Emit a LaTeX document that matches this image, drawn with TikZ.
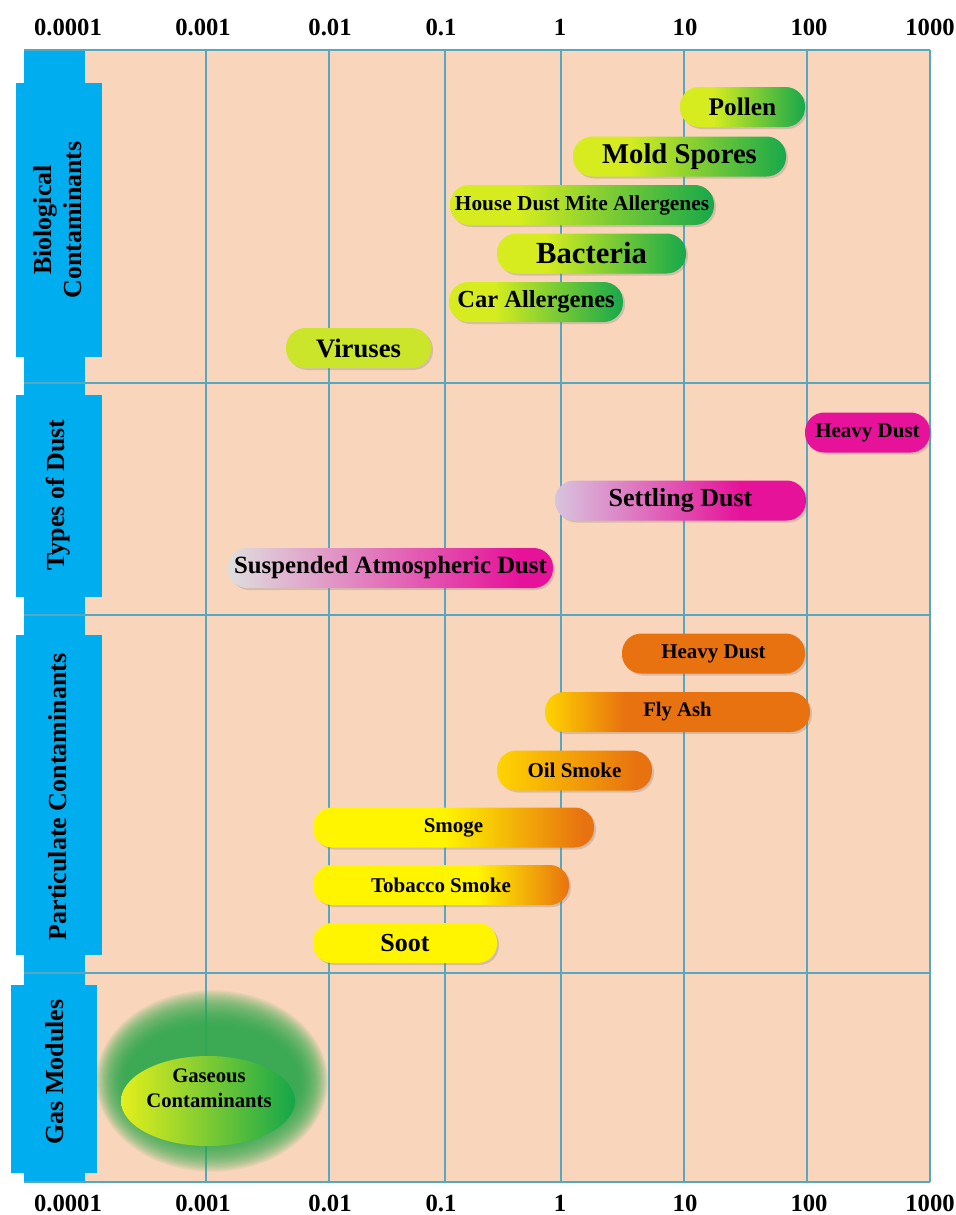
\documentclass[tikz,border=0pt]{standalone}
\usepackage{fontspec}
\setmainfont{Liberation Serif}
\usetikzlibrary{shapes.geometric,shadows}

\definecolor{peach}{HTML}{F9D6BB}
\definecolor{gridblue}{HTML}{55A7C2}
\definecolor{tabblue}{HTML}{00AEEF}
\definecolor{biolime}{HTML}{D6EC1F}
\definecolor{biogreen}{HTML}{17A84B}
\definecolor{viruslime}{HTML}{CBE52A}
\definecolor{dustgrey}{HTML}{DEDEDE}
\definecolor{dustlilac}{HTML}{D8C4DE}
\definecolor{dustpink}{HTML}{E6129A}
\definecolor{smokeyellow}{HTML}{FFF500}
\definecolor{ashyellow}{HTML}{FFD400}
\definecolor{smokeorange}{HTML}{E8720F}
\definecolor{gaslime}{HTML}{E4EF1C}
\definecolor{gasgreen}{HTML}{14A64A}
\definecolor{glowgreen}{HTML}{2BAA4E}

\pgfdeclarehorizontalshading{bioshade}{100bp}{color(0bp)=(biolime); color(25bp)=(biolime); color(38bp)=(biolime); color(75bp)=(biogreen); color(100bp)=(biogreen)}
\pgfdeclarehorizontalshading{susshade}{100bp}{color(0bp)=(dustgrey); color(25bp)=(dustgrey); color(70bp)=(dustpink); color(100bp)=(dustpink)}
\pgfdeclarehorizontalshading{setshade}{100bp}{color(0bp)=(dustlilac); color(25bp)=(dustlilac); color(62bp)=(dustpink); color(100bp)=(dustpink)}
\pgfdeclarehorizontalshading{ashshade}{100bp}{color(0bp)=(ashyellow); color(25bp)=(ashyellow); color(40bp)=(smokeorange); color(100bp)=(smokeorange)}
\pgfdeclarehorizontalshading{oilshade}{100bp}{color(0bp)=(ashyellow); color(25bp)=(ashyellow); color(70bp)=(smokeorange); color(100bp)=(smokeorange)}
\pgfdeclarehorizontalshading{smogshade}{100bp}{color(0bp)=(smokeyellow); color(25bp)=(smokeyellow); color(48bp)=(smokeyellow); color(73bp)=(smokeorange); color(100bp)=(smokeorange)}
\pgfdeclarehorizontalshading{tobshade}{100bp}{color(0bp)=(smokeyellow); color(25bp)=(smokeyellow); color(57bp)=(smokeyellow); color(75bp)=(smokeorange); color(100bp)=(smokeorange)}

\begin{document}
\begin{tikzpicture}[x=0.75pt,y=-0.75pt,every node/.style={align=center},
	gridline/.style={draw=gridblue,line width=1.5pt},
	tablabel/.style={rotate=90,text=black,font=\bfseries\fontsize{19.5}{22.5}\selectfont},
	axislabel/.style={text=black,font=\bfseries\fontsize{18.5}{20}\selectfont},
	bar/.style={rectangle,rounded corners=14.5pt,minimum height=30pt,inner sep=0pt,text=black,
		drop shadow={shadow xshift=1.5pt,shadow yshift=-1.5pt,opacity=0.3}}]
		\useasboundingbox (0,0) rectangle (956,1215);
		\fill[peach] (85,50) rectangle (930,1182);
		\fill[tabblue] (24,50) rectangle (85,1182);
		\fill[tabblue] (16,83) rectangle (102,357);
		\fill[tabblue] (16,395) rectangle (102,597);
		\fill[tabblue] (16,635) rectangle (102,955);
		\fill[tabblue] (11,985) rectangle (97,1173);
		\foreach \x in {206,329,445,561,684,807,930}
			\draw[gridline] (\x,50) -- (\x,1182);
		\foreach \y in {50,383,615,973,1182}
			\draw[gridline] (24,\y) -- (930,\y);

		\node[tablabel] (biolab) at (58,220) {Biological\\Contaminants};
		\node[tablabel] (dustlab) at (58,495) {Types of Dust};
		\node[tablabel] (partlab) at (58,797) {Particulate Contaminants};
		\node[tablabel] (gaslab) at (55,1072) {Gas Modules};

		\foreach \x/\val [count=\i] in {68/0.0001,203/0.001,330/0.01,441/0.1,560/1,685/10,809/100,930/1000}
		{
			\node[axislabel] (top\i) at (\x,27) {\val};
			\node[axislabel] (bot\i) at (\x,1203) {\val};
		}

		\node[bar,shade,shading=bioshade,minimum width=93.75pt,font=\bfseries\fontsize{19}{21}\selectfont] (pollen) at (742.5,107) {Pollen};
		\node[bar,shade,shading=bioshade,minimum width=159.75pt,font=\bfseries\fontsize{21.5}{23}\selectfont] (mold) at (679.5,156.5) {Mold Spores};
		\node[bar,shade,shading=bioshade,minimum width=198pt,font=\bfseries\fontsize{16}{18}\selectfont] (mite) at (582,205) {House Dust Mite Allergenes};
		\node[bar,shade,shading=bioshade,minimum width=141.75pt,font=\bfseries\fontsize{23}{25}\selectfont] (bacteria) at (591.5,253.5) {Bacteria};
		\node[bar,shade,shading=bioshade,minimum width=130.5pt,font=\bfseries\fontsize{18.4}{20}\selectfont] (car) at (536,302) {Car Allergenes};
		\node[bar,fill=viruslime,minimum width=108.75pt,font=\bfseries\fontsize{20}{22}\selectfont] (virus) at (358.5,348) {Viruses};

		\node[bar,fill=dustpink,minimum width=93.75pt,font=\bfseries\fontsize{15.75}{18}\selectfont] (heavy) at (867.5,432.5) {Heavy Dust};
		\node[bar,shade,shading=setshade,minimum width=188.25pt,font=\bfseries\fontsize{19.5}{21}\selectfont] (settling) at (680.5,500.5) {Settling Dust};
		\node[bar,shade,shading=susshade,minimum width=243.75pt,font=\bfseries\fontsize{18.6}{20}\selectfont] (suspended) at (390.5,568) {Suspended Atmospheric Dust};

		\node[bar,fill=smokeorange,minimum width=137.25pt,font=\bfseries\fontsize{15.75}{18}\selectfont] (heavyp) at (713.5,653.5) {Heavy Dust};
		\node[bar,shade,shading=ashshade,minimum width=198.75pt,font=\bfseries\fontsize{15.5}{18}\selectfont] (flyash) at (677.5,712) {Fly Ash};
		\node[bar,shade,shading=oilshade,minimum width=116.25pt,font=\bfseries\fontsize{15.75}{18}\selectfont] (oil) at (574.5,770.5) {Oil Smoke};
		\node[bar,shade,shading=smogshade,minimum width=210.75pt,font=\bfseries\fontsize{15.75}{18}\selectfont] (smoge) at (453.5,827.5) {Smoge};
		\node[bar,shade,shading=tobshade,minimum width=192pt,font=\bfseries\fontsize{15.75}{18}\selectfont] (tobacco) at (441,885) {Tobacco Smoke};
		\node[bar,fill=smokeyellow,minimum width=138pt,font=\bfseries\fontsize{19.5}{21}\selectfont] (soot) at (405,943) {Soot};

		\foreach \k in {0,...,29}
			\fill[glowgreen,opacity=0.07] (212,1081) ellipse ({116-1*\k} and {91-1.2*\k});
		\node[ellipse,left color=gaslime,right color=gasgreen,minimum width=130.5pt,minimum height=67.5pt,inner sep=0pt] (gas) at (208,1101) {};
		\node[text=black,font=\bfseries\fontsize{15.5}{18.75}\selectfont] (gastext) at (209,1088) {Gaseous\\Contaminants};
\end{tikzpicture}
\end{document}
